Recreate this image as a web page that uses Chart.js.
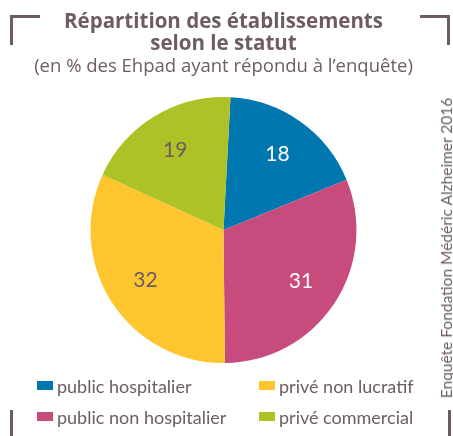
<!DOCTYPE html>
<html>
<head>
<meta charset="utf-8">
<script src="https://cdn.jsdelivr.net/npm/chart.js@4"></script>
<style>
  html, body { margin: 0; padding: 0; background: #fff; }
  #wrap { position: relative; width: 453px; height: 436px; overflow: hidden; font-family: Lato, sans-serif; color: #6d5c60; }
  #wrap canvas { position: absolute; left: 0; top: 0; }
  .br { position: absolute; background: #6d5c60; }
  #legend { position: absolute; left: 37px; top: 374px; display: grid; grid-template-columns: 222px 180px; row-gap: 8px; font-size: 18px; }
  #legend .it { display: flex; align-items: center; height: 23px; white-space: nowrap; }
  #legend .box { width: 16px; height: 9px; margin-right: 4px; }
  #source { position: absolute; left: 446px; top: 248px; transform: translate(-50%, -50%) rotate(-90deg); font-size: 15.5px; white-space: nowrap; }
</style>
</head>
<body>
<div id="wrap">
  <canvas id="myChart" width="453" height="436"></canvas>
  <div class="br" style="left:10px;top:15px;width:30px;height:3px"></div>
  <div class="br" style="left:10px;top:15px;width:3px;height:30px"></div>
  <div class="br" style="left:420px;top:15px;width:30px;height:3px"></div>
  <div class="br" style="left:447px;top:15px;width:3px;height:30px"></div>
  <div class="br" style="left:10px;top:410px;width:3px;height:26px"></div>
  <div class="br" style="left:448px;top:410px;width:3px;height:26px"></div>
  <div id="legend"></div>
  <div id="source">Enquête Fondation Médéric Alzheimer 2016</div>
</div>
<script>
const categories = ['public hospitalier', 'public non hospitalier', 'privé non lucratif', 'privé commercial'];
const values = [18, 31, 32, 19];
const colors = ['#0077ae', '#c84b7e', '#fec52e', '#aec126'];
const labelColors = ['#ffffff', '#ffffff', '#6d5c60', '#6d5c60'];
const legendOrder = [0, 2, 1, 3];

const textColor = '#6d5c60';

// values written inside each slice
const sliceLabels = {
    id: 'sliceLabels',
    afterDatasetsDraw(chart) {
        const ctx = chart.ctx;
        const meta = chart.getDatasetMeta(0);
        ctx.save();
        ctx.font = 'normal 21px Lato';
        ctx.textAlign = 'center';
        ctx.textBaseline = 'middle';
        meta.data.forEach((arc, i) => {
            const p = arc.getProps(['x', 'y', 'startAngle', 'endAngle', 'outerRadius'], true);
            const mid = (p.startAngle + p.endAngle) / 2;
            const r = p.outerRadius * 0.7;
            ctx.fillStyle = labelColors[i];
            ctx.fillText(String(values[i]), p.x + Math.cos(mid) * r, p.y + Math.sin(mid) * r);
        });
        ctx.restore();
    }
};

const chart = new Chart(document.getElementById('myChart'), {
    type: 'pie',
    data: {
        labels: categories,
        datasets: [{
            data: values,
            backgroundColor: colors,
            borderWidth: 0
        }]
    },
    options: {
        responsive: false,
        animation: false,
        rotation: 3,
        layout: { padding: { left: 0, right: 6, top: 0, bottom: 73 } },
        plugins: {
            legend: { display: false },
            tooltip: { enabled: false },
            title: {
                display: true,
                text: ['Répartition des établissements', 'selon le statut'],
                color: textColor,
                font: { family: 'Open Sans', size: 20.5, weight: 'bold', lineHeight: 1.07 },
                padding: { top: 11, bottom: 0 }
            },
            subtitle: {
                display: true,
                text: '(en % des Ehpad ayant répondu à l\u2019enquête)',
                color: textColor,
                font: { family: 'Open Sans', size: 18.5, lineHeight: 1.2 },
                padding: { top: 1, bottom: 19 }
            }
        }
    },
    plugins: [sliceLabels]
});

// legend in two columns
const legend = document.getElementById('legend');
legendOrder.forEach((i) => {
    const item = document.createElement('div');
    item.className = 'it';
    item.innerHTML = '<span class="box" style="background:' + colors[i] + '"></span><span>' + categories[i] + '</span>';
    legend.appendChild(item);
});
</script>
</body>
</html>
